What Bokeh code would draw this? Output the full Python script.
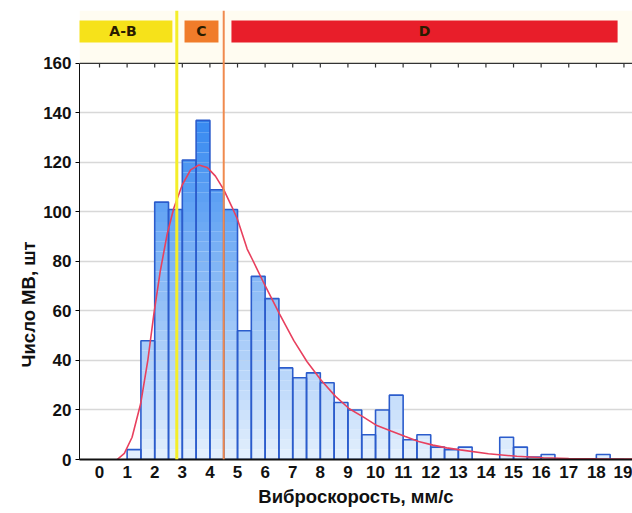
import numpy as np
from bokeh.plotting import figure
from bokeh.models import (Range1d, Span, FixedTicker, ColumnDataSource, BoxAnnotation,
                          Title)
from bokeh.embed import file_html
from bokeh.resources import INLINE
from bokeh.core.properties import value

# ---------------- data ----------------
bin_left = [1.0, 1.5, 2.0, 2.5, 3.0, 3.5, 4.0, 4.5, 5.0, 5.5, 6.0, 6.5, 7.0, 7.5,
            8.0, 8.5, 9.0, 9.5, 10.0, 10.5, 11.0, 11.5, 12.0, 12.5, 13.0, 13.5,
            14.0, 14.5, 15.0, 15.5, 16.0, 16.5, 17.0, 17.5, 18.0, 18.5]
bin_right = [1.5, 2.0, 2.5, 3.0, 3.5, 4.0, 4.5, 5.0, 5.5, 6.0, 6.5, 7.0, 7.5, 8.0,
             8.5, 9.0, 9.5, 10.0, 10.5, 11.0, 11.5, 12.0, 12.5, 13.0, 13.5, 14.0,
             14.5, 15.0, 15.5, 16.0, 16.5, 17.0, 17.5, 18.0, 18.5, 19.0]
counts = [4, 48, 104, 101, 121, 137, 109, 101, 52, 74, 65, 37, 33, 35,
          31, 23, 20, 10, 20, 26, 8, 10, 5, 4, 5, 0,
          0, 9, 5, 1, 2, 0, 0, 0, 2, 0]

curve_x = [0.64, 0.9, 1.18, 1.49, 1.75, 1.97, 2.2, 2.45, 2.69, 3.0, 3.3, 3.6,
           3.9, 4.2, 4.5, 4.8, 5.0, 5.35, 5.53, 6.01, 6.52, 7.04, 7.52, 8.03,
           8.55, 9.05, 9.58, 10.05, 10.56, 11.08, 11.56, 12.08, 12.58, 13.07,
           14.09, 15.12, 16.08, 17.0, 18.0, 19.4]
curve_y = [0, 2.5, 9, 22.5, 40, 58.8, 76, 91, 101.5, 111, 117, 119,
           118, 114.5, 109, 102, 97, 85, 81, 70, 58.8, 48, 39.5, 32,
           25.5, 20.5, 17, 13.7, 11.5, 9.3, 7.3, 5.8, 4.7, 3.9,
           2.3, 1.3, 0.7, 0.4, 0.3, 0.2]

zone_labels = ["A-B", "C", "D"]
zone_start = [-0.94, 3.08, 4.78]
zone_end = [2.64, 4.31, 18.77]
zone_colors = ["#f6e21a", "#f07c2a", "#e81e2a"]

boundaries = [2.8, 4.5]
boundary_colors = ["#f4ee2a", "#f08a4e"]
boundary_widths = [3, 2]

x_ticks = [0, 1, 2, 3, 4, 5, 6, 7, 8, 9, 10, 11, 12, 13, 14, 15, 16, 17, 18, 19]
y_ticks = [0, 20, 40, 60, 80, 100, 120, 140, 160]

x_title = "Виброскорость, мм/с"
y_title = "Число МВ, шт"

# ---------------- layout ----------------
FONT = "Liberation Sans"
X0, X1 = -0.725, 19.31
Y_MAX = 160
Y_TOP = 181.4
ZONE_BOTTOM, ZONE_TOP = 168.5, 177.4

p = figure(width=632, height=513, x_range=Range1d(X0, X1), y_range=Range1d(0, Y_TOP),
           output_backend="svg", toolbar_location=None,
           min_border_left=79, min_border_right=0, min_border_top=10,
           min_border_bottom=54)
p.background_fill_color = "white"
p.border_fill_color = "white"
p.outline_line_color = None
p.xgrid.visible = False

p.add_layout(BoxAnnotation(bottom=Y_MAX, fill_color="#fffcf1", fill_alpha=1.0,
                           line_color=None, level="underlay"))

# gradient-filled bars: horizontal bands
c_lo = np.array([228, 240, 253])
c_hi = np.array([50, 134, 240])
band_edges = list(range(0, 144, 4))
cnt = np.array(counts, dtype=float)
L = np.array(bin_left)
R = np.array(bin_right)
for b0, b1 in zip(band_edges[:-1], band_edges[1:]):
    m = cnt > b0
    if not m.any():
        continue
    t = min(1.0, (b0 + b1) / 2 / 140.0)
    col = c_lo + (c_hi - c_lo) * t
    hexc = "#%02x%02x%02x" % tuple(int(round(v)) for v in col)
    p.quad(left=L[m], right=R[m], bottom=b0, top=np.minimum(cnt[m], b1),
           fill_color=hexc, line_color=None)

src = ColumnDataSource(dict(left=bin_left, right=bin_right, top=counts,
                            bottom=[0] * len(counts)))
p.quad(left="left", right="right", top="top", bottom="bottom", source=src,
       fill_color=None, line_color="#2b5ccc", line_width=1.6)

# top border of the axes box with inward ticks
p.add_layout(Span(location=Y_MAX, dimension="width", line_color="#333333", line_width=1.2))
p.segment(x0=x_ticks, y0=[Y_MAX] * len(x_ticks), x1=x_ticks,
          y1=[Y_MAX - 1.6] * len(x_ticks), line_color="#333333", line_width=1.2)

# zone strip
zsrc = ColumnDataSource(dict(left=zone_start, right=zone_end, color=zone_colors,
                             label=zone_labels,
                             mid=[(a + b) / 2 for a, b in zip(zone_start, zone_end)]))
p.quad(left="left", right="right", bottom=ZONE_BOTTOM, top=ZONE_TOP, fill_color="color",
       line_color=None, source=zsrc)
p.text(x="mid", y=(ZONE_BOTTOM + ZONE_TOP) / 2, text="label", source=zsrc,
       text_align="center", text_baseline="middle", text_font=value("DejaVu Sans"),
       text_font_style="bold", text_font_size="14px", text_color="#2a1c00")

for loc, c, w in zip(boundaries, boundary_colors, boundary_widths):
    p.add_layout(Span(location=loc, dimension="height", line_color=c, line_width=w))

p.line(curve_x, curve_y, line_color="#e8405e", line_width=1.6)

# axes
for ax in (p.xaxis[0], p.yaxis[0]):
    ax.major_label_text_font = FONT
    ax.major_label_text_font_style = "bold"
    ax.major_label_text_font_size = "17px"
    ax.major_label_text_color = "#111111"
    ax.axis_label_text_font = FONT
    ax.axis_label_text_font_style = "bold"
    ax.axis_label_text_font_size = "18.5px"
    ax.axis_label_text_color = "#111111"
    ax.minor_tick_line_color = None
    ax.axis_line_color = "#111111"

p.xaxis.ticker = FixedTicker(ticks=x_ticks)
p.xaxis.axis_label = x_title
p.xaxis.major_tick_in = 0
p.xaxis.major_tick_out = 0
p.xaxis.axis_line_width = 2
p.xaxis.major_label_standoff = 6
p.xaxis.axis_label_standoff = 5

p.yaxis.ticker = FixedTicker(ticks=y_ticks)
p.yaxis.bounds = (0, Y_MAX)
p.yaxis.major_tick_in = 0
p.yaxis.major_tick_out = 4
p.yaxis.major_label_standoff = 4

# y title, anchored near the bottom of the axis like the reference
p.add_layout(Title(text=y_title, align="left", offset=92, standoff=4,
                   text_font=FONT, text_font_style="bold", text_font_size="18.5px",
                   text_color="#111111"), "left")

p.ygrid.ticker = FixedTicker(ticks=y_ticks[1:-1])
p.ygrid.grid_line_color = "#d8d8d8"
p.ygrid.grid_line_width = 1.5

open("out.html", "w").write(file_html(p, INLINE))
